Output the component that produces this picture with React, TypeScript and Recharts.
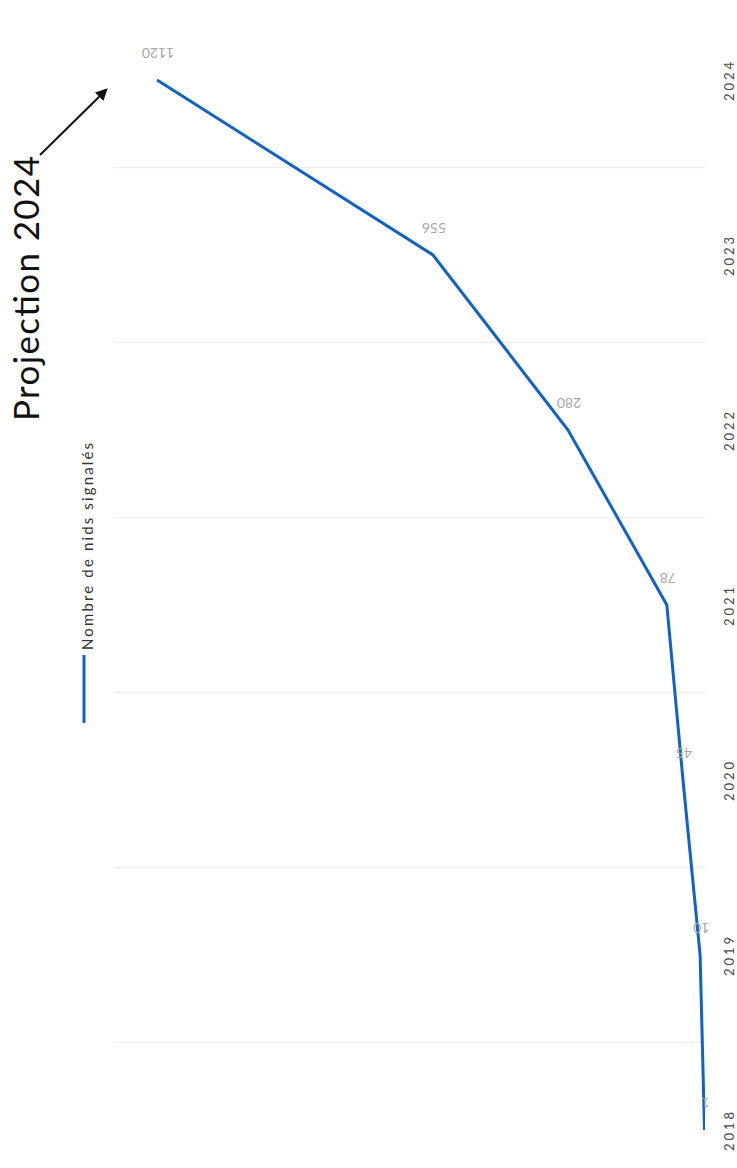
import React from 'react';
import { LineChart, Line, XAxis, YAxis, ReferenceLine, LabelList, Legend } from 'recharts';

const years = [2018, 2019, 2020, 2021, 2022, 2023, 2024];
const nids = [1, 10, 45, 78, 280, 556, 1120];
const gridYears = [2018.5, 2019.5, 2020.5, 2021.5, 2022.5, 2023.5];
const seriesName = 'Nombre de nids signalés';
const annotation = 'Projection 2024';

const data = years.map((y, i) => ({ year: y, value: nids[i] }));

const BLUE = '#1262c6';

function YearTick(props: any) {
  const { x, y, payload } = props;
  return (
    <text
      x={x}
      y={y}
      transform={`rotate(-90, ${x}, ${y})`}
      textAnchor="middle"
      dominantBaseline="central"
      fontFamily="Lato, 'Open Sans', sans-serif"
      fontSize={13}
      letterSpacing={3}
      fill="#4a4a4a"
    >
      {payload.value}
    </text>
  );
}

function ValueLabel(props: any) {
  const { x, y, value } = props;
  const cx = x + 1;
  const cy = y - 27;
  return (
    <text
      x={cx}
      y={cy}
      transform={`rotate(180, ${cx}, ${cy})`}
      textAnchor="middle"
      dominantBaseline="central"
      fontFamily="Lato, 'Open Sans', sans-serif"
      fontSize={14}
      fill="#a8a8a8"
    >
      {value}
    </text>
  );
}

function LegendContent() {
  return (
    <svg width={50} height={310} style={{ display: 'block', overflow: 'visible' }}>
      <line x1={24} y1={225} x2={24} y2={293} stroke={BLUE} strokeWidth={3} />
      <text
        x={27}
        y={220}
        transform={`rotate(-90, 27, 220)`}
        textAnchor="start"
        dominantBaseline="central"
        fontFamily="Lato, 'Open Sans', sans-serif"
        fontSize={15}
        fill="#333"
        textLength={207}
        lengthAdjust="spacing"
      >
        {seriesName}
      </text>
    </svg>
  );
}

export default function App() {
  return (
    <div style={{ position: 'absolute', left: 0, top: 0, width: 737, height: 1168, background: '#fff' }}>
      <LineChart
        width={737}
        height={1168}
        data={data}
        layout="vertical"
        margin={{ top: 10, right: 0, bottom: 3, left: 114 }}
      >
        <XAxis type="number" dataKey="value" domain={[0, 1208]} reversed hide allowDataOverflow />
        <YAxis
          type="number"
          dataKey="year"
          orientation="right"
          domain={[2017.8, 2024.4]}
          ticks={years}
          interval={0}
          reversed
          width={32}
          axisLine={false}
          tickLine={false}
          tickSize={0}
          tickMargin={24}
          tick={<YearTick />}
          allowDataOverflow
        />
        {gridYears.map((g) => (
          <ReferenceLine key={g} y={g} stroke="#efefef" strokeWidth={1.5} />
        ))}
        <Legend
          layout="horizontal"
          verticalAlign="middle"
          align="center"
          content={<LegendContent />}
          wrapperStyle={{ left: 60, top: 430, width: 50, height: 310 }}
        />
        <Line
          type="linear"
          dataKey="value"
          name={seriesName}
          stroke={BLUE}
          strokeWidth={3}
          dot={false}
          activeDot={false}
          isAnimationActive={false}
        >
          <LabelList dataKey="value" content={<ValueLabel />} />
        </Line>
      </LineChart>
      <svg
        width={737}
        height={1168}
        style={{ position: 'absolute', left: 0, top: 0, pointerEvents: 'none' }}
      >
        <defs>
          <marker id="arrowHead" viewBox="0 0 10 10" refX="8" refY="5" markerWidth="6" markerHeight="6" orient="auto">
            <path d="M0,0 L10,5 L0,10 z" fill="#111" />
          </marker>
        </defs>
        <line x1={40} y1={155} x2={106} y2={90} stroke="#111" strokeWidth={2} markerEnd="url(#arrowHead)" />
        <text
          x={39}
          y={421}
          transform="rotate(-90, 39, 421)"
          textAnchor="start"
          fontFamily="Lato, 'Open Sans', sans-serif"
          fontSize={35}
          fill="#111"
          textLength={265}
          lengthAdjust="spacing"
        >
          {annotation}
        </text>
      </svg>
    </div>
  );
}
